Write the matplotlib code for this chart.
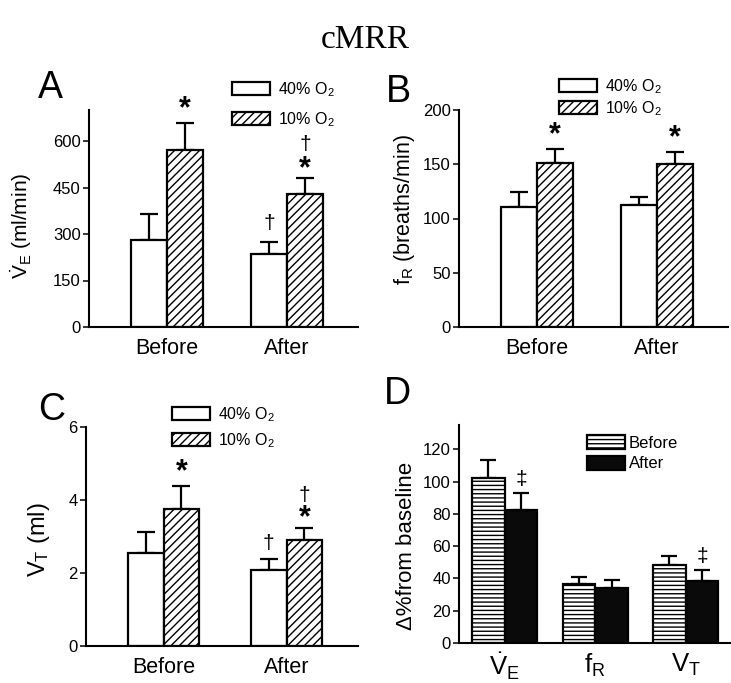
import matplotlib
matplotlib.use("Agg")
import matplotlib.pyplot as plt
import numpy as np

plt.rcParams["font.family"] = "Liberation Sans"
plt.rcParams["mathtext.fontset"] = "custom"
plt.rcParams["mathtext.rm"] = "Liberation Sans"
plt.rcParams["mathtext.it"] = "Liberation Sans:italic"
plt.rcParams["mathtext.bf"] = "Liberation Sans:bold"
plt.rcParams["hatch.linewidth"] = 1.0
plt.rcParams["axes.linewidth"] = 1.5

# ---- data ----
groups = ["Before", "After"]

ve_40 = [282, 235]
ve_40_err = [83, 40]
ve_10 = [570, 430]
ve_10_err = [88, 51]

fr_40 = [111, 112]
fr_40_err = [13, 8]
fr_10 = [151, 150]
fr_10_err = [13, 11]

vt_40 = [2.55, 2.09]
vt_40_err = [0.57, 0.29]
vt_10 = [3.76, 2.90]
vt_10_err = [0.62, 0.32]

d_labels = [r"$\dot{\mathrm{V}}_\mathrm{E}$", r"$\mathrm{f}_\mathrm{R}$", r"$\mathrm{V}_\mathrm{T}$"]
d_before = [102, 36.7, 48]
d_before_err = [11.4, 4.1, 5.6]
d_after = [82.5, 34, 38.7]
d_after_err = [10.3, 5.2, 6.2]

W, H = 731, 683
fig = plt.figure(figsize=(W / 100, H / 100), dpi=100)


def px_axes(left, right, top, bottom):
    return fig.add_axes([left / W, 1 - bottom / H, (right - left) / W, (bottom - top) / H])


def style(ax, ylim, yticks):
    ax.spines["top"].set_visible(False)
    ax.spines["right"].set_visible(False)
    ax.set_ylim(*ylim)
    ax.set_yticks(yticks)
    ax.tick_params(axis="y", direction="out", length=4, width=1.1, labelsize=12, pad=2)
    ax.tick_params(axis="x", length=0, labelsize=15.5, pad=8)


def mark(ax, x, y, s, dy, size=22, bold=True):
    ax.annotate(s, (x, y), xytext=(0, dy), textcoords="offset points",
                ha="center", va="center", fontsize=size,
                fontweight="bold" if bold else "normal")


def pair_panel(ax, v40, e40, v10, e10, xlim, width):
    x = np.arange(len(groups))
    ax.bar(x - width / 2, v40, width, color="white", edgecolor="black", linewidth=1.6,
           label=r"40% O$_2$", zorder=2)
    ax.bar(x + width / 2, v10, width, color="white", edgecolor="black", linewidth=1.6,
           hatch="////", label=r"10% O$_2$", zorder=2)
    ax.errorbar(x - width / 2, v40, yerr=[np.zeros(len(x)), e40], fmt="none",
                ecolor="black", elinewidth=1.6, capsize=6.5, capthick=1.6, zorder=1)
    ax.errorbar(x + width / 2, v10, yerr=[np.zeros(len(x)), e10], fmt="none",
                ecolor="black", elinewidth=1.6, capsize=6.5, capthick=1.6, zorder=1)
    ax.set_xlim(*xlim)
    ax.set_xticks(x)
    ax.set_xticklabels(groups)
    return x


def pair_legend(ax, x0, ytop, spacing):
    ax.legend(loc="upper left", bbox_to_anchor=(x0 / W, 1 - ytop / H),
              bbox_transform=fig.transFigure, frameon=False, fontsize=11.5,
              handlelength=2.4, handleheight=0.85, handletextpad=0.5,
              labelspacing=spacing, borderpad=0, borderaxespad=0)


# ---- A ----
axA = px_axes(89, 358, 110, 327)
x = pair_panel(axA, ve_40, ve_40_err, ve_10, ve_10_err, (-0.65, 1.59), 0.3)
style(axA, (0, 700), [0, 150, 300, 450, 600])
axA.set_ylabel(r"$\dot{\mathrm{V}}_\mathrm{E}$ (ml/min)", fontsize=15)
axA.yaxis.set_label_coords(-0.205, 0.465)
pair_legend(axA, 232, 80, 0.7)
mark(axA, x[0] + 0.15, ve_10[0] + ve_10_err[0], "*", 10)
mark(axA, x[1] + 0.15, ve_10[1] + ve_10_err[1], "*", 6)
mark(axA, x[1] + 0.15, ve_10[1] + ve_10_err[1], "\u2020", 24, size=15, bold=False)
mark(axA, x[1] - 0.15, ve_40[1] + ve_40_err[1], "\u2020", 13, size=15, bold=False)

# ---- B ----
axB = px_axes(459, 728, 110, 327)
x = pair_panel(axB, fr_40, fr_40_err, fr_10, fr_10_err, (-0.646, 1.59), 0.3)
style(axB, (0, 200), [0, 50, 100, 150, 200])
axB.set_ylabel(r"$\mathrm{f}_\mathrm{R}$ (breaths/min)", fontsize=15.5)
axB.yaxis.set_label_coords(-0.155, 0.54)
pair_legend(axB, 559, 77, 0.2)
mark(axB, x[0] + 0.15, fr_10[0] + fr_10_err[0], "*", 10)
mark(axB, x[1] + 0.15, fr_10[1] + fr_10_err[1], "*", 10)

# ---- C ----
axC = px_axes(86, 358, 427, 646)
x = pair_panel(axC, vt_40, vt_40_err, vt_10, vt_10_err, (-0.63, 1.58), 0.29)
style(axC, (0, 6), [0, 2, 4, 6])
axC.set_ylabel(r"$\mathrm{V}_\mathrm{T}$ (ml)", fontsize=17)
axC.yaxis.set_label_coords(-0.125, 0.487)
pair_legend(axC, 172, 405, 0.45)
mark(axC, x[0] + 0.145, vt_10[0] + vt_10_err[0], "*", 10)
mark(axC, x[1] + 0.145, vt_10[1] + vt_10_err[1], "*", 7)
mark(axC, x[1] + 0.145, vt_10[1] + vt_10_err[1], "\u2020", 24, size=15, bold=False)
mark(axC, x[1] - 0.145, vt_40[1] + vt_40_err[1], "\u2020", 11, size=15, bold=False)

# ---- D ----
axD = px_axes(459, 730, 425, 643)
xd = np.arange(len(d_labels))
wd = 0.36
axD.bar(xd - wd / 2, d_before, wd, color="white", edgecolor="black", linewidth=1.6,
        hatch="----", label="Before", zorder=2)
axD.bar(xd + wd / 2, d_after, wd, color="#0a0a0a", edgecolor="black", linewidth=1.6,
        label="After", zorder=2)
axD.errorbar(xd - wd / 2, d_before, yerr=[np.zeros(3), d_before_err], fmt="none",
             ecolor="black", elinewidth=1.6, capsize=6, capthick=1.6, zorder=1)
axD.errorbar(xd + wd / 2, d_after, yerr=[np.zeros(3), d_after_err], fmt="none",
             ecolor="black", elinewidth=1.6, capsize=6, capthick=1.6, zorder=1)
axD.set_xlim(-0.506, 2.49)
axD.set_xticks(xd)
axD.set_xticklabels(d_labels)
style(axD, (0, 135), [0, 20, 40, 60, 80, 100, 120])
axD.tick_params(axis="x", labelsize=18.5, pad=6)
axD.set_ylabel("\u0394%from baseline", fontsize=16)
axD.yaxis.set_label_coords(-0.155, 0.447)
axD.legend(loc="upper left", bbox_to_anchor=(587 / W, 1 - 435 / H),
           bbox_transform=fig.transFigure, frameon=False, fontsize=12,
           handlelength=2.3, handleheight=0.9, handletextpad=0.2,
           labelspacing=0.3, borderpad=0, borderaxespad=0)
mark(axD, xd[0] + wd / 2, d_after[0] + d_after_err[0], "\u2021", 10, size=15, bold=False)
mark(axD, xd[2] + wd / 2, d_after[2] + d_after_err[2], "\u2021", 10, size=15, bold=False)

# panel letters and title
for letter, (lx, ly) in zip("ABCD", [(38, 88), (386, 92), (38, 410), (384, 394)]):
    fig.text(lx / W, 1 - ly / H, letter, fontsize=27, ha="left", va="center")
fig.text(365 / W, 1 - 40 / H, "cMRR", fontsize=24, family="Liberation Serif",
         ha="center", va="center")

fig.savefig("out.png", dpi=100)
